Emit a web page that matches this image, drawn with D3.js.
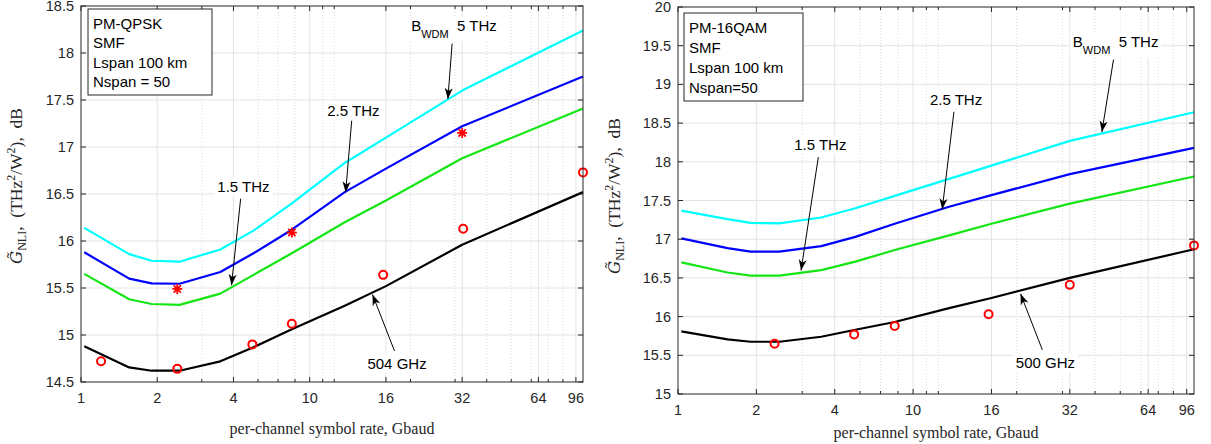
<!DOCTYPE html>
<html>
<head>
<meta charset="utf-8">
<script src="https://d3js.org/d3.v7.min.js"></script>
<style>
  html, body { margin: 0; padding: 0; background: #fff; }
  svg { display: block; }
</style>
</head>
<body>
<svg id="fig" width="1211" height="444"></svg>
<script>
// ---------------------------------------------------------------
// Closed-form NLI coefficient vs. per-channel symbol rate
// ---------------------------------------------------------------

// symbol-rate grid of the analytic curves (Gbaud)
const rateGrid = [1.03, 1.55, 1.9, 2.45, 3.55, 4.8, 6.8, 11, 16, 32, 96];

// x axis ticks and the labels printed under them
const xTickValues = [1, 2, 4, 8, 16, 32, 64, 90];
const xTickLabels = ["1", "2", "4", "10", "16", "32", "64", "96"];

// ---- PM-QPSK panel (dB) ----
const qpskYTicks   = [14.5, 15, 15.5, 16, 16.5, 17, 17.5, 18, 18.5];
const qpsk5THz     = [16.14, 15.86, 15.79, 15.78, 15.91, 16.11, 16.40, 16.83, 17.10, 17.60, 18.24];
const qpsk2p5THz   = [15.88, 15.60, 15.55, 15.545, 15.67, 15.87, 16.12, 16.52, 16.77, 17.22, 17.75];
const qpsk1p5THz   = [15.65, 15.38, 15.33, 15.32, 15.44, 15.64, 15.87, 16.20, 16.43, 16.88, 17.41];
const qpsk504GHz   = [14.88, 14.655, 14.62, 14.62, 14.72, 14.87, 15.06, 15.31, 15.52, 15.96, 16.52];
const qpskSimRates = [1.2, 2.4, 4.75, 6.8, 15.6, 32.3, 96];
const qpskSim504   = [14.72, 14.64, 14.90, 15.12, 15.64, 16.13, 16.73];
const qpskStarRates = [2.4, 6.8, 32];
const qpskSim2p5   = [15.49, 16.09, 17.15];
const qpskInfo     = ["PM-QPSK", "SMF", "Lspan 100 km", "Nspan = 50"];

// ---- PM-16QAM panel (dB) ----
const qamYTicks    = [15, 15.5, 16, 16.5, 17, 17.5, 18, 18.5, 19, 19.5, 20];
const qam5THz      = [17.37, 17.26, 17.21, 17.205, 17.28, 17.40, 17.56, 17.78, 17.95, 18.27, 18.64];
const qam2p5THz    = [17.01, 16.885, 16.84, 16.84, 16.91, 17.03, 17.20, 17.42, 17.57, 17.84, 18.18];
const qam1p5THz    = [16.70, 16.57, 16.53, 16.53, 16.60, 16.71, 16.86, 17.05, 17.20, 17.46, 17.81];
const qam500GHz    = [15.81, 15.705, 15.675, 15.675, 15.74, 15.83, 15.93, 16.11, 16.24, 16.50, 16.87];
const qamSimRates  = [2.35, 4.75, 6.8, 15.6, 32, 96];
const qamSim500    = [15.65, 15.77, 15.88, 16.03, 16.41, 16.92];
const qamInfo      = ["PM-16QAM", "SMF", "Lspan 100 km", "Nspan=50"];

const curveColors = { c5: "#00ffff", c2p5: "#0000ff", c1p5: "#14e614", c05: "#000000" };

// annotation callouts: text centre, arrow tail and arrow head in data units
const qpskNotes = [
  { parts: [["B"], ["WDM", "sub"], ["  5 THz"]], at: [29.7, 18.29], tail: [29.2, 18.10], head: [28.1, 17.51] },
  { parts: [["2.5 THz"]], at: [11.9, 17.39], tail: [11.72, 17.28], head: [11.09, 16.515] },
  { parts: [["1.5 THz"]], at: [4.38, 16.58], tail: [4.27, 16.45], head: [3.93, 15.53] },
  { parts: [["504 GHz"]], at: [17.7, 14.70], tail: [17.3, 14.83], head: [14.16, 15.43] }
];
const qamNotes = [
  { parts: [["B"], ["WDM", "sub"], ["  5 THz"]], at: [48, 19.55], tail: [47.1, 19.32], head: [42.5, 18.385] },
  { parts: [["2.5 THz"]], at: [11.7, 18.80], tail: [11.48, 18.645], head: [10.35, 17.385] },
  { parts: [["1.5 THz"]], at: [3.52, 18.225], tail: [3.46, 18.06], head: [2.97, 16.595] },
  { parts: [["500 GHz"]], at: [25.8, 15.41], tail: [25.1, 15.57], head: [20.7, 16.295] }
];

const SANS = "'Liberation Sans', Arial, Helvetica, sans-serif";
const SERIF = "'Liberation Serif', 'Times New Roman', serif";
const AXIS = "#262626";

const svg = d3.select("#fig");

function drawPanel(cfg) {
  const g = svg.append("g");
  const x = d3.scaleLog().domain([1, 96]).range([cfg.left, cfg.right]);
  const y = d3.scaleLinear().domain(cfg.yDomain).range([cfg.bottom, cfg.top]);

  // background
  g.append("rect").attr("x", cfg.left).attr("y", cfg.top)
    .attr("width", cfg.right - cfg.left).attr("height", cfg.bottom - cfg.top)
    .attr("fill", "#fff");

  // minor log grid (dotted)
  const minor = [];
  [1, 10].forEach(dec => d3.range(1, 10).forEach(k => {
    const v = k * dec;
    if (v > 1 && v < 96 && !xTickValues.includes(v)) minor.push(v);
  }));
  g.append("g").selectAll("line").data(minor).join("line")
    .attr("x1", d => x(d)).attr("x2", d => x(d))
    .attr("y1", cfg.top).attr("y2", cfg.bottom)
    .attr("stroke", "#d4d4d4").attr("stroke-width", 0.8)
    .attr("stroke-dasharray", "1,2");

  // major grid
  g.append("g").selectAll("line").data(xTickValues.slice(1)).join("line")
    .attr("x1", d => x(d)).attr("x2", d => x(d))
    .attr("y1", cfg.top).attr("y2", cfg.bottom)
    .attr("stroke", "#e3e3e3").attr("stroke-width", 1);
  g.append("g").selectAll("line").data(cfg.yTicks.slice(1, -1)).join("line")
    .attr("x1", cfg.left).attr("x2", cfg.right)
    .attr("y1", d => y(d)).attr("y2", d => y(d))
    .attr("stroke", "#e3e3e3").attr("stroke-width", 1);

  // analytic curves
  const line = d3.line().x(d => x(d[0])).y(d => y(d[1]));
  cfg.curves.forEach(c => {
    g.append("path")
      .datum(rateGrid.map((r, i) => [r, c.values[i]]))
      .attr("d", line).attr("fill", "none")
      .attr("stroke", c.color).attr("stroke-width", 2.2)
      .attr("stroke-linejoin", "round");
  });

  // simulation markers: circles
  g.append("g").selectAll("circle")
    .data(cfg.circleRates.map((r, i) => [r, cfg.circleValues[i]]))
    .join("circle")
    .attr("cx", d => x(d[0])).attr("cy", d => y(d[1])).attr("r", 4)
    .attr("fill", "none").attr("stroke", "#ff0000").attr("stroke-width", 2);

  // simulation markers: asterisks
  if (cfg.starRates) {
    const s = 5, t = s * 0.72;
    const star = `M${-s},0L${s},0M0,${-s}L0,${s}M${-t},${-t}L${t},${t}M${-t},${t}L${t},${-t}`;
    g.append("g").selectAll("path")
      .data(cfg.starRates.map((r, i) => [r, cfg.starValues[i]]))
      .join("path")
      .attr("transform", d => `translate(${x(d[0])},${y(d[1])})`)
      .attr("d", star).attr("fill", "none")
      .attr("stroke", "#ff0000").attr("stroke-width", 1.8);
  }

  // callouts with arrows
  cfg.notes.forEach(n => {
    const tx = x(n.tail[0]), ty = y(n.tail[1]);
    const hx = x(n.head[0]), hy = y(n.head[1]);
    const ang = Math.atan2(hy - ty, hx - tx) * 180 / Math.PI;
    g.append("line").attr("x1", tx).attr("y1", ty).attr("x2", hx).attr("y2", hy)
      .attr("stroke", "#000").attr("stroke-width", 1);
    g.append("path")
      .attr("transform", `translate(${hx},${hy}) rotate(${ang})`)
      .attr("d", "M0,0L-11,-4L-8,0L-11,4Z").attr("fill", "#000");

    const lg = g.append("g");
    const bg = lg.append("rect").attr("fill", "#fff");
    const txt = lg.append("text")
      .attr("x", x(n.at[0])).attr("y", y(n.at[1]) + 5.5)
      .attr("text-anchor", "middle")
      .attr("font-family", SANS).attr("font-size", 15).attr("fill", "#000");
    n.parts.forEach((p, i) => {
      const ts = txt.append("tspan").text(p[0]).attr("xml:space", "preserve");
      if (p[1] === "sub") ts.attr("font-size", 11).attr("dy", 7);
      else if (i > 0 && n.parts[i - 1][1] === "sub") ts.attr("dy", -7);
    });
    txt.style("white-space", "pre");
    const bb = txt.node().getBBox();
    bg.attr("x", bb.x - 3).attr("y", bb.y - 1)
      .attr("width", bb.width + 6).attr("height", bb.height + 2);
  });

  // axes box
  g.append("rect").attr("x", cfg.left).attr("y", cfg.top)
    .attr("width", cfg.right - cfg.left).attr("height", cfg.bottom - cfg.top)
    .attr("fill", "none").attr("stroke", AXIS).attr("stroke-width", 1);

  // ticks (inside, on all four sides)
  const xt = g.append("g").attr("stroke", AXIS).attr("stroke-width", 1);
  xTickValues.forEach(v => {
    xt.append("line").attr("x1", x(v)).attr("x2", x(v)).attr("y1", cfg.bottom).attr("y2", cfg.bottom - 5);
    xt.append("line").attr("x1", x(v)).attr("x2", x(v)).attr("y1", cfg.top).attr("y2", cfg.top + 5);
  });
  minor.forEach(v => {
    xt.append("line").attr("x1", x(v)).attr("x2", x(v)).attr("y1", cfg.bottom).attr("y2", cfg.bottom - 3);
    xt.append("line").attr("x1", x(v)).attr("x2", x(v)).attr("y1", cfg.top).attr("y2", cfg.top + 3);
  });
  cfg.yTicks.forEach(v => {
    xt.append("line").attr("x1", cfg.left).attr("x2", cfg.left + 5).attr("y1", y(v)).attr("y2", y(v));
    xt.append("line").attr("x1", cfg.right).attr("x2", cfg.right - 5).attr("y1", y(v)).attr("y2", y(v));
  });

  // tick labels
  g.append("g").selectAll("text").data(xTickValues).join("text")
    .attr("x", d => x(d)).attr("y", cfg.bottom + 21)
    .attr("text-anchor", "middle").attr("font-family", SANS).attr("font-size", 14.5)
    .attr("fill", AXIS).text((d, i) => xTickLabels[i]);
  g.append("g").selectAll("text").data(cfg.yTicks).join("text")
    .attr("x", cfg.left - 7).attr("y", d => y(d) + 5)
    .attr("text-anchor", "end").attr("font-family", SANS).attr("font-size", 14.5)
    .attr("fill", AXIS).text(d => String(d));

  // axis titles
  g.append("text")
    .attr("x", (cfg.left + cfg.right) / 2).attr("y", cfg.xTitleY)
    .attr("text-anchor", "middle").attr("font-family", SERIF).attr("font-size", 16)
    .attr("fill", AXIS).text("per-channel symbol rate, Gbaud");

  const yt = g.append("text")
    .attr("transform", `translate(${cfg.yTitleX},${cfg.yTitleY}) rotate(-90)`)
    .attr("text-anchor", "middle").attr("font-family", SERIF).attr("font-size", 17.5)
    .attr("fill", AXIS).style("white-space", "pre");
  yt.append("tspan").attr("font-family", "'DejaVu Serif', serif").attr("font-style", "italic")
    .attr("font-size", 16.5).text("G\u0303");
  yt.append("tspan").attr("font-size", 12).attr("dy", 4).text("NLI");
  yt.append("tspan").attr("dy", -4).text(",  (THz");
  yt.append("tspan").attr("font-size", 12).attr("dy", -7).text("2");
  yt.append("tspan").attr("dy", 7).text("/W");
  yt.append("tspan").attr("font-size", 12).attr("dy", -7).text("2");
  yt.append("tspan").attr("dy", 7).text("),  dB");

  // info box
  const ib = g.append("g");
  ib.append("rect").attr("x", cfg.box[0]).attr("y", cfg.box[1])
    .attr("width", cfg.box[2]).attr("height", cfg.box[3])
    .attr("fill", "#fff").attr("stroke", AXIS).attr("stroke-width", 1);
  cfg.info.forEach((s, i) => {
    ib.append("text").attr("x", cfg.box[0] + 5).attr("y", cfg.box[1] + 20 + i * cfg.lineGap)
      .attr("font-family", SANS).attr("font-size", 15).attr("fill", "#000").text(s);
  });
}

drawPanel({
  left: 81, right: 583, top: 6, bottom: 382,
  yDomain: [14.5, 18.5], yTicks: qpskYTicks,
  curves: [
    { values: qpsk5THz, color: curveColors.c5 },
    { values: qpsk2p5THz, color: curveColors.c2p5 },
    { values: qpsk1p5THz, color: curveColors.c1p5 },
    { values: qpsk504GHz, color: curveColors.c05 }
  ],
  circleRates: qpskSimRates, circleValues: qpskSim504,
  starRates: qpskStarRates, starValues: qpskSim2p5,
  notes: qpskNotes, info: qpskInfo,
  box: [88, 9, 124, 86], lineGap: 19.3,
  xTitleY: 434, yTitleX: 22, yTitleY: 186
});

drawPanel({
  left: 678, right: 1194, top: 7, bottom: 394,
  yDomain: [15, 20], yTicks: qamYTicks,
  curves: [
    { values: qam5THz, color: curveColors.c5 },
    { values: qam2p5THz, color: curveColors.c2p5 },
    { values: qam1p5THz, color: curveColors.c1p5 },
    { values: qam500GHz, color: curveColors.c05 }
  ],
  circleRates: qamSimRates, circleValues: qamSim500,
  notes: qamNotes, info: qamInfo,
  box: [684, 13, 119, 88], lineGap: 20,
  xTitleY: 438, yTitleX: 620, yTitleY: 196
});
</script>
</body>
</html>
